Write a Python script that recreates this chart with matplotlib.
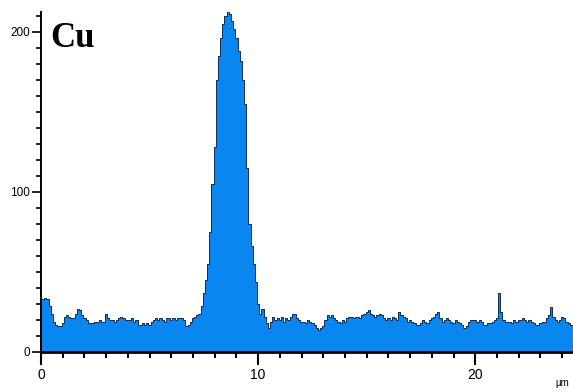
import numpy as np
import matplotlib.pyplot as plt
from matplotlib.ticker import MultipleLocator

# Cu line-scan counts, one value every 0.1 um from 0 to 24.5 um
step = 0.1
counts = [
    33, 33, 34, 33, 29, 24, 19, 17, 16, 16,
    18, 22, 23, 22, 21, 21, 24, 27, 26, 23,
    21, 20, 18, 18, 18, 19, 19, 20, 19, 19,
    24, 21, 20, 20, 19, 20, 21, 22, 21, 20,
    20, 20, 21, 19, 20, 17, 17, 18, 17, 18,
    17, 19, 20, 21, 20, 21, 20, 19, 21, 21,
    20, 21, 20, 21, 21, 21, 20, 16, 17, 19,
    21, 22, 23, 24, 29, 37, 45, 55, 75, 105,
    128, 170, 185, 196, 205, 210, 213, 211, 207, 202,
    196, 188, 182, 170, 155, 115, 80, 66, 55, 44,
    30, 24, 27, 22, 18, 15, 19, 22, 20, 21,
    20, 22, 19, 21, 20, 22, 24, 24, 21, 20,
    19, 19, 18, 20, 19, 18, 17, 15, 14, 15,
    16, 20, 23, 22, 23, 21, 20, 19, 18, 20,
    19, 21, 22, 22, 21, 22, 22, 21, 23, 24,
    25, 26, 24, 23, 22, 23, 24, 23, 21, 20,
    21, 20, 22, 21, 20, 25, 23, 22, 21, 19,
    20, 19, 18, 17, 17, 18, 20, 19, 18, 20,
    21, 22, 24, 25, 21, 19, 20, 21, 20, 19,
    18, 20, 19, 18, 17, 15, 16, 19, 20, 20,
    20, 19, 20, 19, 17, 17, 18, 18, 19, 20,
    21, 37, 25, 20, 19, 19, 19, 18, 20, 19,
    20, 20, 21, 20, 19, 20, 19, 18, 17, 17,
    18, 19, 19, 21, 23, 28, 22, 20, 19, 20,
    22, 21, 19, 18, 17, 17,
]
x_ticks = [0, 10, 20]
y_ticks = [0, 100, 200]
element = 'Cu'
unit = 'µm'

pos = np.arange(len(counts)) * step
vals = np.array(counts)

fig = plt.figure(figsize=(5.73, 3.92), dpi=100)
ax = fig.add_axes([41 / 573, 40 / 392, 1 - 41 / 573, 340 / 392])

ax.fill_between(pos, vals, 0, step='mid', facecolor='#0a86f0',
                edgecolor='#0e2d55', linewidth=0.7)

ax.set_xlim(0, 24.5)
ax.set_ylim(0, 212.5)

ax.spines['top'].set_visible(False)
ax.spines['right'].set_visible(False)
ax.spines['left'].set_linewidth(1.4)
ax.spines['bottom'].set_linewidth(2.0)

ax.set_xticks(x_ticks)
ax.set_yticks(y_ticks)
ax.xaxis.set_minor_locator(MultipleLocator(1))
ax.yaxis.set_minor_locator(MultipleLocator(10))
ax.tick_params(axis='x', which='major', direction='out', length=9.5, width=1.5,
               pad=2, labelsize=10)
ax.tick_params(axis='x', which='minor', direction='out', length=4.5, width=1.4)
ax.tick_params(axis='y', which='major', direction='out', length=6.5, width=1.2,
               pad=1.5, labelsize=8.5)
ax.tick_params(axis='y', which='minor', direction='out', length=3.5, width=1.2)
for lab in ax.get_xticklabels() + ax.get_yticklabels():
    lab.set_fontfamily('Liberation Sans')

ax.text(0.017, 0.97, element, transform=ax.transAxes, ha='left', va='top',
        fontsize=25, fontweight='bold', family='Liberation Serif')
fig.text(555 / 573, 4 / 392, unit, ha='left', va='bottom', fontsize=7,
         family='Liberation Sans')

fig.savefig('out.png', dpi=100)
